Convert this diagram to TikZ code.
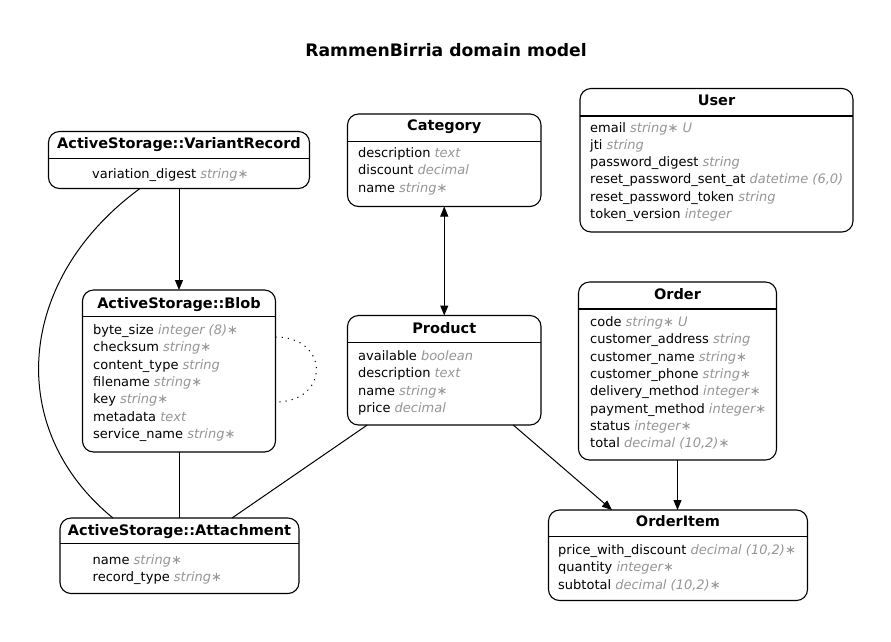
\documentclass[tikz,border=0pt]{standalone}
\usepackage{fontspec}
\setmainfont{DejaVu Sans}
\usetikzlibrary{arrows.meta,calc}
\definecolor{typegray}{RGB}{150,150,150}
\newcommand\ty[1]{{\color{typegray}\itshape #1}}
\newcommand\attrrows[4]{\foreach \t [count=\i from 0] in {#4} {\node[attr] (#1\i) at (#2,{#3+\i*17.3}) {\t};}}
\tikzset{
 entbox/.style={draw, line width=1.1pt, rounded corners=11pt, inner sep=0pt, outer sep=0pt},
 hdr/.style={line width=1.1pt},
 etitle/.style={anchor=base, inner sep=0pt, font=\fontsize{14.5}{17}\selectfont\bfseries},
 attr/.style={anchor=base west, inner sep=0pt, font=\fontsize{13}{17}\selectfont},
 conn/.style={line width=1pt},
 arr/.style={conn, -{Triangle[length=10pt,width=8pt]}},
 darr/.style={conn, {Triangle[length=10pt,width=8pt]}-{Triangle[length=10pt,width=8pt]}},
 dots/.style={conn, dash pattern=on 1.2pt off 5pt},
}
\begin{document}
\begin{tikzpicture}[x=1pt,y=-1pt]
\fill[white] (0,0) rectangle (891,641);
\useasboundingbox (0,0) rectangle (891,641);

\node[font=\fontsize{17.2}{20}\selectfont\bfseries, anchor=base, inner sep=0pt] (maintitle) at (446,56) {RammenBirria domain model};

% ActiveStorage::VariantRecord
\node[entbox, minimum width=261pt, minimum height=57pt] (vr) at (179,160) {};
\node[etitle] (vrT) at (179,148.5) {ActiveStorage::VariantRecord};
\draw[hdr] (vr.north west) ++(0,26.8) -- ++(261,0);
\attrrows{vrA}{92}{178}{variation\_digest \ty{string∗}}

% Category
\node[entbox, minimum width=193.5pt, minimum height=92.5pt] (cat) at (444.25,160.25) {};
\node[etitle] (catT) at (444.25,130.5) {Category};
\draw[hdr] (cat.north west) ++(0,27.5) -- ++(193.5,0);
\attrrows{catA}{358}{157.5}{description \ty{text}, discount \ty{decimal}, name \ty{string∗}}

% User
\node[entbox, minimum width=273pt, minimum height=143.5pt] (user) at (716.5,160.25) {};
\node[etitle] (userT) at (716.5,105) {User};
\draw[hdr] (user.north west) ++(0,27.5) -- ++(273,0);
\attrrows{userA}{590}{132}{email \ty{string∗ U}, jti \ty{string}, password\_digest \ty{string}, reset\_password\_sent\_at \ty{datetime (6,0)}, reset\_password\_token \ty{string}, token\_version \ty{integer}}

% ActiveStorage::Blob
\node[entbox, minimum width=193pt, minimum height=162pt] (blob) at (179,371) {};
\node[etitle] (blobT) at (179,308) {ActiveStorage::Blob};
\draw[hdr] (blob.north west) ++(0,26.7) -- ++(193,0);
\attrrows{blobA}{93}{334.5}{byte\_size \ty{integer (8)∗}, checksum \ty{string∗}, content\_type \ty{string}, filename \ty{string∗}, key \ty{string∗}, metadata \ty{text}, service\_name \ty{string∗}}

% Product
\node[entbox, minimum width=193.5pt, minimum height=109.5pt] (product) at (444.25,370.25) {};
\node[etitle] (productT) at (444.25,333) {Product};
\draw[hdr] (product.north west) ++(0,27.2) -- ++(193.5,0);
\attrrows{productA}{358}{360.5}{available \ty{boolean}, description \ty{text}, name \ty{string∗}, price \ty{decimal}}

% Order
\node[entbox, minimum width=198pt, minimum height=178pt] (order) at (677.5,371) {};
\node[etitle] (orderT) at (677.5,299.5) {Order};
\draw[hdr] (order.north west) ++(0,27) -- ++(198,0);
\attrrows{orderA}{590}{326.5}{code \ty{string∗ U}, customer\_address \ty{string}, customer\_name \ty{string∗}, customer\_phone \ty{string∗}, delivery\_method \ty{integer∗}, payment\_method \ty{integer∗}, status \ty{integer∗}, total \ty{decimal (10,2)∗}}

% OrderItem
\node[entbox, minimum width=259pt, minimum height=90.5pt] (oi) at (678,555.25) {};
\node[etitle] (oiT) at (678,526.5) {OrderItem};
\draw[hdr] (oi.north west) ++(0,26.7) -- ++(259,0);
\attrrows{oiA}{558}{554.5}{price\_with\_discount \ty{decimal (10,2)∗}, quantity \ty{integer∗}, subtotal \ty{decimal (10,2)∗}}

% ActiveStorage::Attachment
\node[entbox, minimum width=239pt, minimum height=75.5pt] (att) at (179.5,555.75) {};
\node[etitle] (attT) at (179.5,535.5) {ActiveStorage::Attachment};
\draw[hdr] (att.north west) ++(0,25.3) -- ++(239,0);
\attrrows{attA}{92.5}{564}{name \ty{string∗}, record\_type \ty{string∗}}

% connectors
\draw[arr] (vr) -- (blob);
\draw[conn] (blob.south) -- (blob.south |- att.north);
\draw[darr] (cat) -- (product);
\draw[arr] (order.south) -- (order.south |- oi.north);
\draw[arr] ($(product.south)+(69,0)$) -- ($(oi.north)+(-66,0)$);
\draw[conn] ($(product.south)+(-77,0)$) -- ($(att.north)+(52.5,0)$);
\draw[conn] ($(vr.south)+(-39,0)$) .. controls (15,280) and (5,430) .. ($(att.north)+(-66.5,0)$);
\draw[dots] ($(blob.east)+(0,-34)$) .. controls (330,337) and (330,402) .. ($(blob.east)+(0,31)$);
\end{tikzpicture}
\end{document}
